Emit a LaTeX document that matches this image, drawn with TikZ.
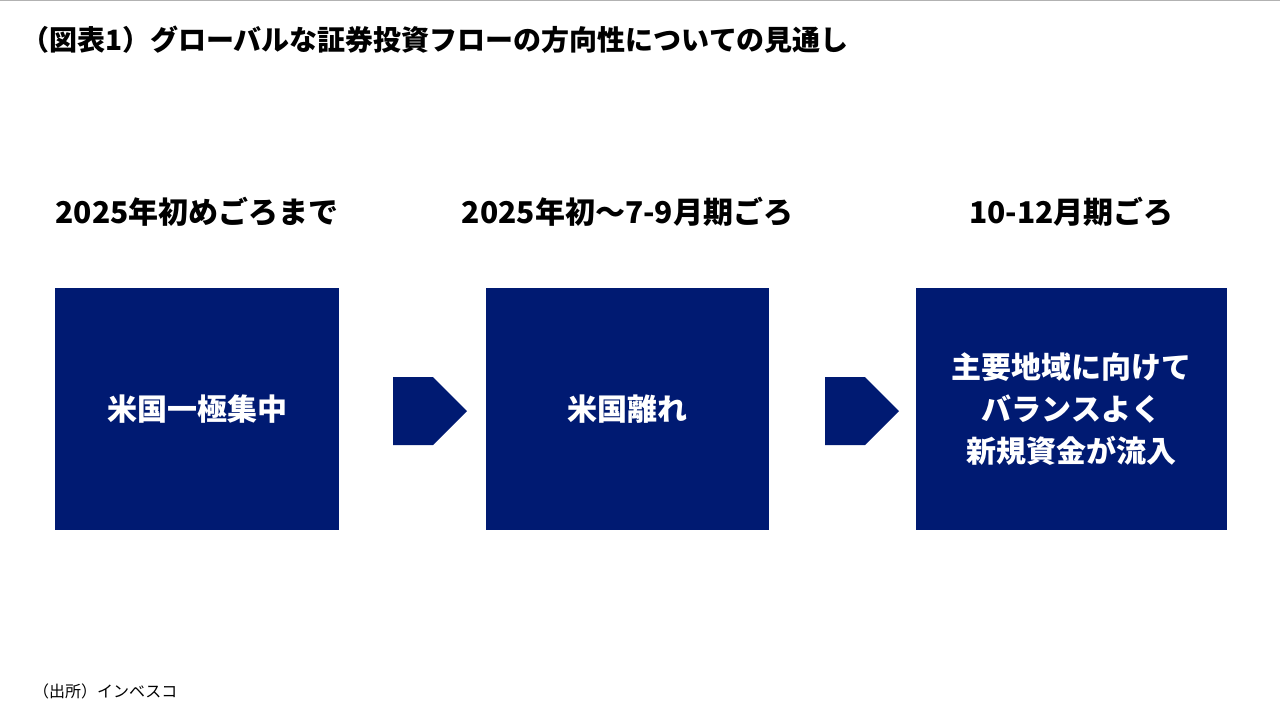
\documentclass[tikz,border=0pt]{standalone}
\usepackage{fontspec}
\setmainfont{Noto Sans CJK JP}
\usetikzlibrary{shapes.arrows}
\definecolor{navy}{HTML}{001A72}
\tikzset{
  stage/.style={fill=navy,text=white,font=\bfseries\fontsize{15}{21}\selectfont,align=center,minimum height=121pt,inner sep=0pt},
  period/.style={font=\bfseries\fontsize{15}{18}\selectfont},
  flow/.style={single arrow,fill=navy,minimum height=37pt,minimum width=34pt,single arrow head extend=0pt,single arrow tip angle=90,inner sep=0pt,shape border uses incircle}
}
\begin{document}
\begin{tikzpicture}[x=0.5pt,y=-0.5pt]
\useasboundingbox (0,0) rectangle (1280,720);
\draw[gray!60] (0,0.5) -- (1280,0.5);
\node[anchor=west,font=\bfseries\fontsize{14}{16}\selectfont] (title) at (14,40) {（図表1）グローバルな証券投資フローの方向性についての見通し};

% stages
\node[stage,minimum width=142pt] (s1) at (197,409) {米国一極集中};
\node[stage,minimum width=141.5pt] (s2) at (627.5,409) {米国離れ};
\node[stage,minimum width=155.5pt] (s3) at (1071.5,409) {主要地域に向けて\\バランスよく\\新規資金が流入};

\node[period] (p1) at (197,212) {2025年初めごろまで};
\node[period] (p2) at (627.5,212) {2025年初～7-9月期ごろ};
\node[period] (p3) at (1071.5,212) {10-12月期ごろ};

% arrows
\node[flow] (a1) at (413,411) {};
\node[flow] (a2) at (845,411) {};

\node[anchor=west,font=\fontsize{8}{10}\selectfont] (src) at (26,691) {（出所）インベスコ};
\end{tikzpicture}
\end{document}
